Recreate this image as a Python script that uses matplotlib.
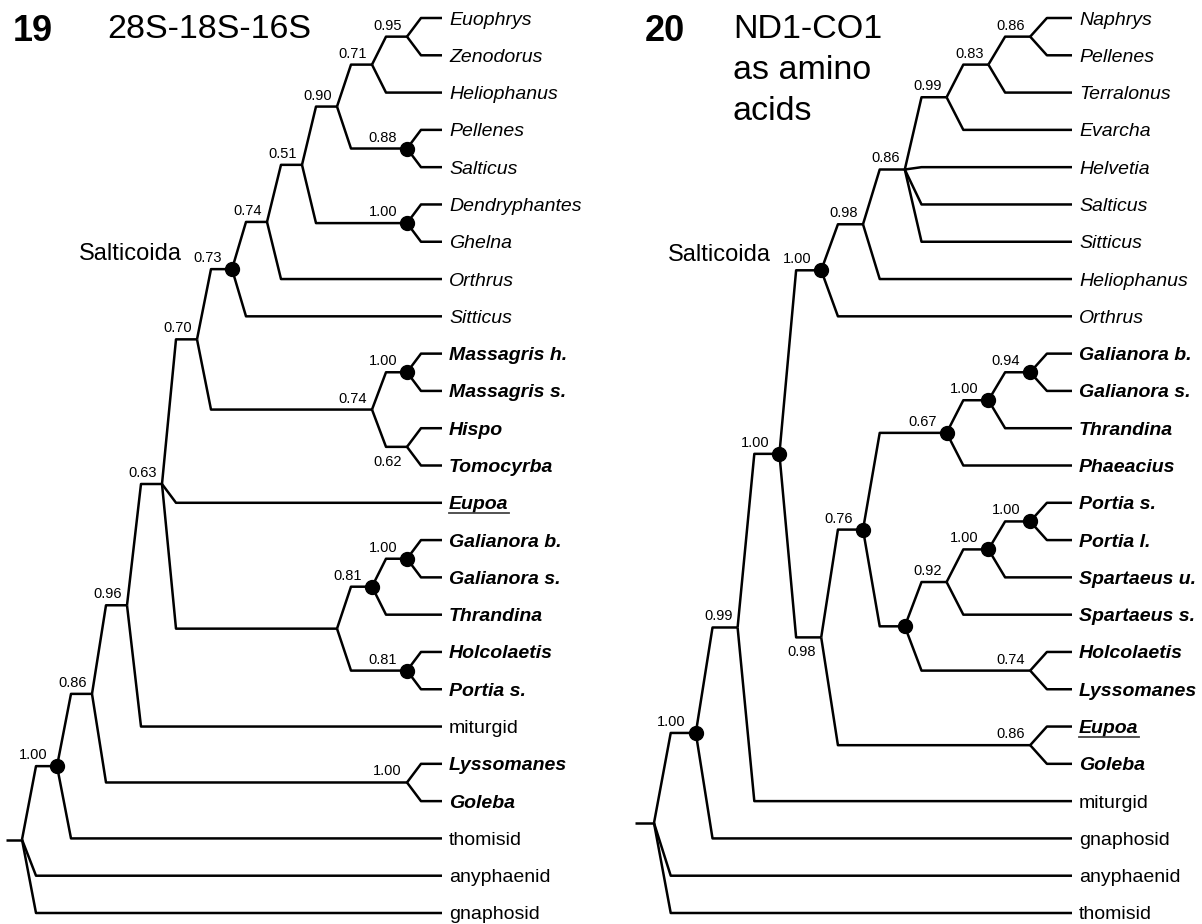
import matplotlib
matplotlib.use("Agg")
import matplotlib.pyplot as plt
from matplotlib.lines import Line2D

W, H, DPI = 1202, 924, 100
plt.rcParams['font.family'] = ['Liberation Sans', 'DejaVu Sans']

# ---------------- data ----------------
TIPS_19 = ["Euophrys", "Zenodorus", "Heliophanus", "Pellenes", "Salticus",
           "Dendryphantes", "Ghelna", "Orthrus", "Sitticus", "Massagris h.",
           "Massagris s.", "Hispo", "Tomocyrba", "Eupoa", "Galianora b.",
           "Galianora s.", "Thrandina", "Holcolaetis", "Portia s.", "miturgid",
           "Lyssomanes", "Goleba", "thomisid", "anyphaenid", "gnaphosid"]
STYLE_19 = ['i'] * 9 + ['bi'] * 4 + ['biu'] + ['bi'] * 5 + ['r'] + ['bi'] * 2 + ['r'] * 3
# newick; label = support, '*' = filled circle, '_' = support printed below, [..] = clade name
TOPOLOGY_19 = ("((((((((((((Euophrys,Zenodorus)0.95,Heliophanus)0.71,(Pellenes,Salticus)0.88*)0.90,"
               "(Dendryphantes,Ghelna)1.00*)0.51,Orthrus)0.74,Sitticus)0.73*[Salticoida],"
               "((Massagris h.,Massagris s.)1.00*,(Hispo,Tomocyrba)0.62_)0.74)0.70,Eupoa,"
               "(((Galianora b.,Galianora s.)1.00*,Thrandina)0.81*,(Holcolaetis,Portia s.)0.81*))0.63,"
               "miturgid)0.96,(Lyssomanes,Goleba)1.00)0.86,thomisid)1.00*,anyphaenid,gnaphosid);")

TIPS_20 = ["Naphrys", "Pellenes", "Terralonus", "Evarcha", "Helvetia", "Salticus",
           "Sitticus", "Heliophanus", "Orthrus", "Galianora b.", "Galianora s.",
           "Thrandina", "Phaeacius", "Portia s.", "Portia l.", "Spartaeus u.",
           "Spartaeus s.", "Holcolaetis", "Lyssomanes", "Eupoa", "Goleba",
           "miturgid", "gnaphosid", "anyphaenid", "thomisid"]
STYLE_20 = ['i'] * 9 + ['bi'] * 10 + ['biu'] + ['bi'] + ['r'] * 4
TOPOLOGY_20 = ("((((((((((Naphrys,Pellenes)0.86,Terralonus)0.83,Evarcha)0.99,Helvetia,Salticus,Sitticus)0.86,"
               "Heliophanus)0.98,Orthrus)1.00*[Salticoida],"
               "(((((Galianora b.,Galianora s.)0.94*,Thrandina)1.00*,Phaeacius)0.67*,"
               "((((Portia s.,Portia l.)1.00*,Spartaeus u.)1.00*,Spartaeus s.)0.92,"
               "(Holcolaetis,Lyssomanes)0.74)*)0.76*,(Eupoa,Goleba)0.86)0.98_)1.00*,"
               "miturgid)0.99,gnaphosid)1.00*,anyphaenid,thomisid);")

PANEL_NUMBERS = ["19", "20"]
PANEL_TITLES = [["28S-18S-16S"], ["ND1-CO1", "as amino", "acids"]]

# ---------------- layout (pixels) ----------------
PANEL_X = [(22, 442), (654, 1072)]       # root x, tip-level x
TIP_Y = (18, 913)                          # first / last tip y
SLANT = 0.4                                # slanted part of each branch (levels)
STUB = 0.45                                # root stub length (levels)
PX = 72.0 / DPI                            # px -> points
LW = 1.8


def parse(s):
    s = s.strip().rstrip(';')
    pos = 0

    def node():
        nonlocal pos
        if s[pos] == '(':
            pos += 1
            kids = [node()]
            while s[pos] == ',':
                pos += 1
                kids.append(node())
            pos += 1
            j = pos
            while pos < len(s) and s[pos] not in ',)':
                pos += 1
            return {'kids': kids, 'label': s[j:pos]}
        j = pos
        while pos < len(s) and s[pos] not in ',)':
            pos += 1
        return {'tip': s[j:pos]}
    return node()


def layout(n, tips):
    if 'tip' in n:
        n['y'] = tips.index(n['tip'])
        n['L'] = 0
    else:
        for k in n['kids']:
            layout(k, tips)
        n['L'] = max(k['L'] for k in n['kids']) + 1
        n['y'] = 0.5 * (n['kids'][0]['y'] + n['kids'][-1]['y'])


def draw(ax, n):
    if 'tip' in n:
        return
    for k in n['kids']:
        ax.plot([n['L'], n['L'] - SLANT, k['L']], [n['y'], k['y'], k['y']],
                color='black', lw=LW, solid_capstyle='butt', clip_on=False, zorder=2)
        draw(ax, k)
    lab = n['label']
    name = None
    if '[' in lab:
        name = lab[lab.index('[') + 1:lab.index(']')]
        lab = lab[:lab.index('[')]
    circle = '*' in lab
    below = '_' in lab
    sup = lab.replace('*', '').replace('_', '')
    if circle:
        ax.plot(n['L'], n['y'], 'o', ms=10, color='black', zorder=3, clip_on=False)
    gap = 10 if circle else 5
    if sup:
        if below:
            ax.annotate(sup, (n['L'], n['y']), xytext=(-gap * PX, -8 * PX),
                        textcoords='offset points', ha='right', va='top', fontsize=10.5)
        else:
            ax.annotate(sup, (n['L'], n['y']), xytext=(-gap * PX, 7 * PX),
                        textcoords='offset points', ha='right', va='baseline', fontsize=10.5)
    if name:
        ax.annotate(name, (n['L'], n['y']), xytext=(-50 * PX, 9.5 * PX),
                    textcoords='offset points', ha='right', va='baseline', fontsize=17)


fig = plt.figure(figsize=(W / DPI, H / DPI), dpi=DPI)
fig.patch.set_facecolor('white')

trees = [(TIPS_19, STYLE_19, TOPOLOGY_19), (TIPS_20, STYLE_20, TOPOLOGY_20)]
underlines = []
for (tips, styles, topo), (x0, x1) in zip(trees, PANEL_X):
    root = parse(topo)
    layout(root, tips)
    ax = fig.add_axes([x0 / W, 1 - TIP_Y[1] / H, (x1 - x0) / W, (TIP_Y[1] - TIP_Y[0]) / H])
    ax.set_xlim(root['L'], 0)
    ax.set_ylim(len(tips) - 1, 0)
    ax.axis('off')
    ax.plot([root['L'] + STUB, root['L']], [root['y'], root['y']], color='black', lw=LW,
            solid_capstyle='butt', clip_on=False)
    draw(ax, root)
    for i, (t, st) in enumerate(zip(tips, styles)):
        txt = ax.annotate(t, (0, i), xytext=(7 * PX, -6.5 * PX), textcoords='offset points',
                          ha='left', va='baseline', fontsize=14,
                          style='italic' if 'i' in st else 'normal',
                          weight='bold' if 'b' in st else 'normal')
        if 'u' in st:
            underlines.append((ax, i, txt))

for k, (num, title) in enumerate(zip(PANEL_NUMBERS, PANEL_TITLES)):
    nx, tx = [(13, 107), (645, 733)][k]
    fig.text(nx / W, 1 - 41 / H, num, fontsize=26, weight='bold', ha='left', va='baseline')
    for j, line in enumerate(title):
        fig.text(tx / W, 1 - (38 + 41 * j) / H, line, fontsize=24.5, ha='left', va='baseline')

fig.canvas.draw()
r = fig.canvas.get_renderer()
for ax, i, txt in underlines:
    bb = txt.get_window_extent(r)
    yl = ax.transData.transform((0, i))[1] - 10
    fig.add_artist(Line2D([bb.x0 / W, bb.x1 / W], [yl / H, yl / H], transform=fig.transFigure,
                          color='#444444', lw=1.3))

fig.savefig('out.png', dpi=DPI, facecolor='white')
